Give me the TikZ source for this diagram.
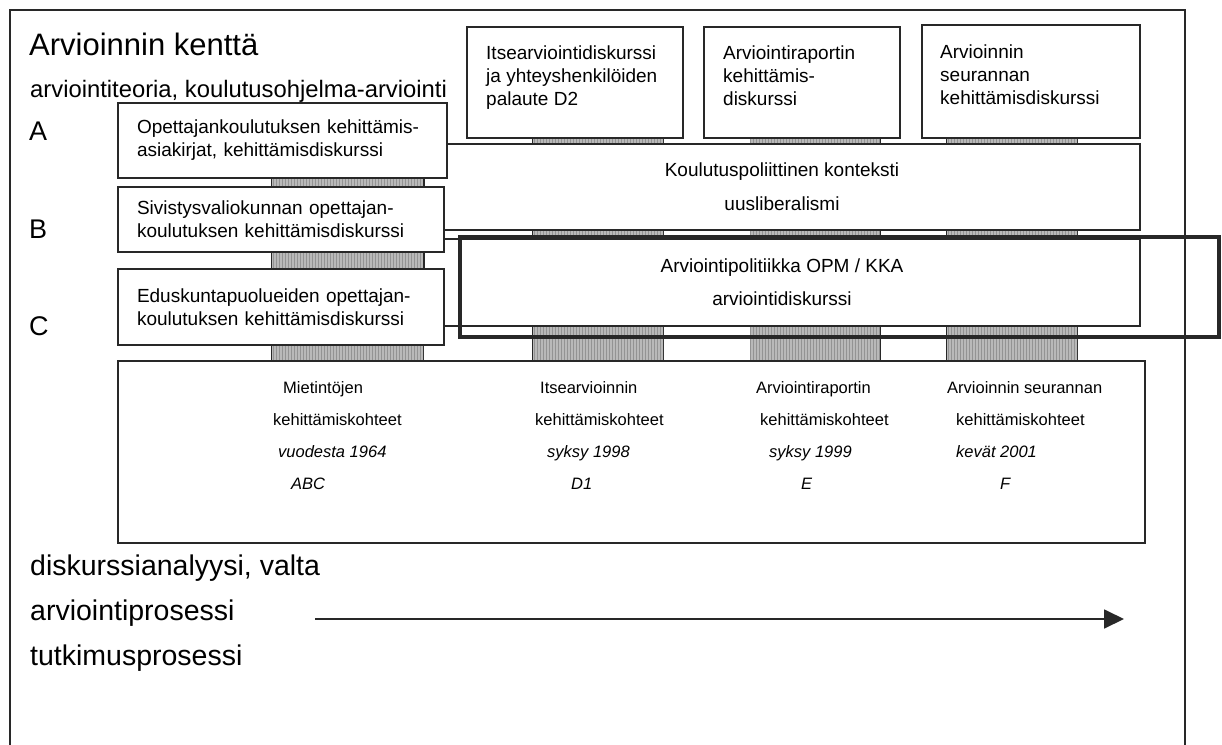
\documentclass[tikz,border=0pt]{standalone}
\usepackage{fontspec}
\setmainfont{Liberation Sans}
\usetikzlibrary{arrows.meta, positioning, patterns}
\definecolor{viiva}{RGB}{40,40,40}

\tikzset{
  laatikko/.style={draw=viiva, fill=white, line width=1.3pt, inner sep=0pt},
  palkki/.style={draw=viiva, line width=0.8pt, fill=gray!55,
    postaction={pattern=vertical lines, pattern color=gray!85}},
  pieni/.style={font=\fontsize{19}{23}\selectfont},
  yla/.style={pieni, align=left, inner sep=0pt, anchor=north west},
  alarivi/.style={font=\fontsize{16.5}{32}\selectfont, align=left, inner sep=0pt, anchor=north west},
  iso/.style={font=\fontsize{28.5}{32}\selectfont, inner sep=0pt, anchor=base west},
}

\begin{document}
\begin{tikzpicture}[x=1pt, y=-1pt]
    \useasboundingbox (0,0) rectangle (1222,744);
    \clip (0,0) rectangle (1222,744);
    % ulkokehys
    \draw[viiva, line width=1.3pt] (10,10) rectangle (1185,760);
    % palkit laatikoiden takana
    \draw[palkki] (271,178) rectangle (423,361);
    \foreach \a/\b in {532/663, 750/880, 946/1077} {
        \draw[palkki] (\a,138) rectangle (\b,361);
    }
    % kontekstit
    \node[laatikko, minimum width=716, minimum height=86, align=center,
          font=\fontsize{19}{34}\selectfont] (konteksti) at (782,187)
          {Koulutuspoliittinen konteksti\\uusliberalismi};
    \node[laatikko, minimum width=716, minimum height=87, align=center,
          font=\fontsize{19}{33}\selectfont] (politiikka) at (782,282.5)
          {Arviointipolitiikka OPM / KKA\\arviointidiskurssi};
    % vasen sarake
    \node[laatikko, pieni, minimum width=329, minimum height=75, text width=291,
          inner xsep=19, align=left] (asiakirjat) at (282.5,140.5)
          {Opettajankoulutuksen kehittämis-\\asiakirjat, kehittämisdiskurssi};
    \node[laatikko, pieni, minimum width=326, minimum height=65, text width=288,
          inner xsep=19, align=left] (valiokunta) at (281,219.5)
          {Sivistysvaliokunnan opettajan-\\koulutuksen kehittämisdiskurssi};
    \node[laatikko, pieni, minimum width=326, minimum height=76, text width=288,
          inner xsep=19, align=left] (puolueet) at (281,307)
          {Eduskuntapuolueiden opettajan-\\koulutuksen kehittämisdiskurssi};
    % ylärivi
    \node[laatikko, minimum width=216, minimum height=111] (itse) at (575,82.5) {};
    \node[laatikko, minimum width=196, minimum height=111] (raportti) at (802,82.5) {};
    \node[laatikko, minimum width=218, minimum height=113] (seuranta) at (1031,81.5) {};
    \node[yla] (itse-t) at (486,46) {Itsearviointidiskurssi\\ja yhteyshenkilöiden\\palaute D2};
    \node[yla] (raportti-t) at (723,46) {Arviointiraportin\\kehittämis-\\diskurssi};
    \node[yla] (seuranta-t) at (940,45) {Arvioinnin\\seurannan\\kehittämisdiskurssi};
    % alalaatikko
    \node[laatikko, minimum width=1027, minimum height=182] (kohteet) at (631.5,452) {};
    \node[alarivi] (mietinnot) at (273,381)
        {\hspace*{10pt}Mietintöjen\\kehittämiskohteet\\\hspace*{5pt}\textit{vuodesta 1964}\\\hspace*{18pt}\textit{ABC}};
    \node[alarivi] (itsearviointi) at (535,381)
        {\hspace*{5pt}Itsearvioinnin\\kehittämiskohteet\\\hspace*{12pt}\textit{syksy 1998}\\\hspace*{36pt}\textit{D1}};
    \node[alarivi] (arviointiraportti) at (756,381)
        {Arviointiraportin\\\hspace*{4pt}kehittämiskohteet\\\hspace*{13pt}\textit{syksy 1999}\\\hspace*{45pt}\textit{E}};
    \node[alarivi] (seurannan) at (947,381)
        {Arvioinnin seurannan\\\hspace*{9pt}kehittämiskohteet\\\hspace*{9pt}\textit{kevät 2001}\\\hspace*{53pt}\textit{F}};
    % korostus
    \draw[viiva, line width=3.5pt] (460,237) rectangle (1219,337);
    % tekstit vasemmalla
    \node[iso, font=\fontsize{31}{34}\selectfont] (kentta) at (29,55) {Arvioinnin kenttä};
    \node[iso, font=\fontsize{23.8}{28}\selectfont] (teoria) at (30,97) {arviointiteoria, koulutusohjelma-arviointi};
    \node[iso, font=\fontsize{27}{32}\selectfont] (kirjain-a) at (29,140) {A};
    \node[iso, font=\fontsize{27}{32}\selectfont] (kirjain-b) at (29,238) {B};
    \node[iso, font=\fontsize{27}{32}\selectfont] (kirjain-c) at (29,335) {C};
    \node[iso] (analyysi) at (30,575) {diskurssianalyysi, valta};
    \node[iso] (prosessi) at (30,620) {arviointiprosessi};
    \node[iso] (tutkimus) at (30,665) {tutkimusprosessi};
    % aikanuoli
    \coordinate (alku) at (315,619);
    \coordinate (loppu) at (1124,619);
    \draw[viiva, line width=1.8pt, -{Triangle[length=20pt, width=19pt]}] (alku) -- (loppu);
\end{tikzpicture}
\end{document}
